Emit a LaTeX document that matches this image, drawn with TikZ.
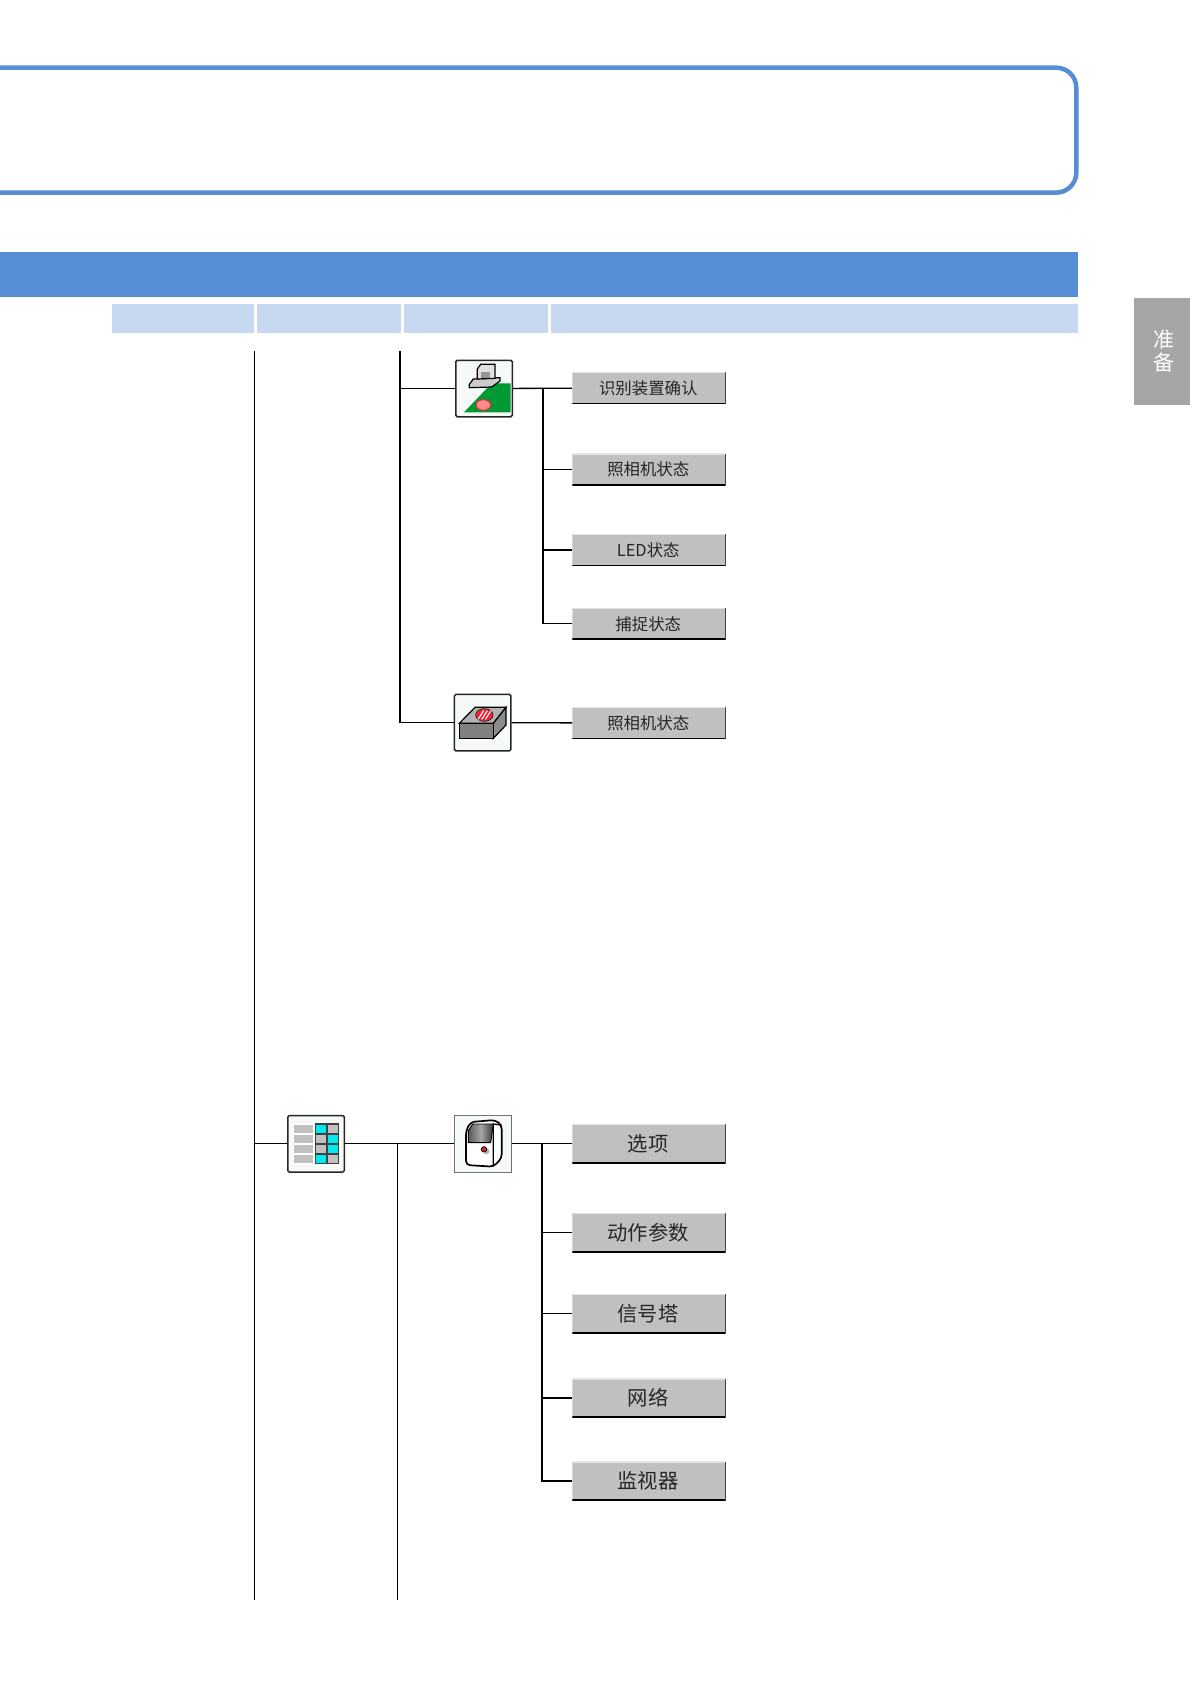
\documentclass[tikz,border=0pt]{standalone}
\usepackage{fontspec}
\setmainfont{Noto Sans CJK SC}
\definecolor{bandblue}{HTML}{558ED5}
\definecolor{cellblue}{HTML}{C6D9F1}
\definecolor{tabgray}{HTML}{A6A6A6}
\definecolor{btngray}{HTML}{C0C0C0}
\definecolor{btnlight}{HTML}{E4E4E4}
\definecolor{iconbg}{HTML}{F5FAF6}
\definecolor{icongreen}{HTML}{009933}
\definecolor{iconcyan}{HTML}{00E8F0}
\definecolor{iconred}{HTML}{F02030}
\begin{document}
\begin{tikzpicture}[
    x=1pt, y=-1pt,
    link/.style={line width=1.3pt, black},
    iconbox/.style={draw=black!85, line width=1.5pt, fill=iconbg, rounded corners=1.5pt,
      minimum size=56.5pt, inner sep=0pt},
    iconflat/.style={iconbox, draw=black!55, line width=.8pt, rounded corners=0pt},
    btn/.style={fill=btngray, text=black!85, minimum width=153.4pt, inner sep=0pt,
      path picture={
        \draw[btnlight, line width=2pt] (path picture bounding box.south west)
          |- (path picture bounding box.north east);
        \draw[black, line width=2.2pt] (path picture bounding box.south west)
          -| (path picture bounding box.north east);
      }},
    btnsmall/.style={btn, minimum height=31.5pt, font=\fontsize{16.4}{18}\selectfont},
    btnbig/.style={btn, minimum height=39pt, font=\fontsize{20.3}{22}\selectfont},
    icondraw/.style={draw=black, line width=1.2pt}]
  \useasboundingbox (0,0) rectangle (1190,1684);

  % header
  \draw[bandblue, line width=4.5pt, rounded corners=20pt]
    (0,67.7) -- (1076.3,67.7) -- (1076.3,192.6) -- (0,192.6);
  \fill[bandblue] (0,252) rectangle (1078,297);
  \foreach \a/\b in {112/254, 257/401, 404/548, 551/1078}
    \fill[cellblue] (\a,304) rectangle (\b,332.7);
  \node[fill=tabgray, text=white, minimum width=60pt, minimum height=106.7pt, inner sep=0pt,
    align=center, font=\fontsize{21}{22.7}\selectfont] (tabPrep) at (1164,351.3) {\raisebox{-1pt}{准}\\\raisebox{-1pt}{备}};

  % icons
  \node[iconbox]  (iconA) at (484,388.5) {};
  \node[iconbox]  (iconB) at (482.7,722.7) {};
  \node[iconbox]  (iconC) at (316,1143.8) {};
  \node[iconflat] (iconD) at (483,1143.8) {};

  % buttons
  \node[btnsmall, text depth=0pt] (btnA1) at (649,388) {\hspace{-1.5pt}识别装置确认};
  \node[btnsmall] (btnA2) at (649,469.4) {\hspace{-1.5pt}照相机状态};
  \node[btnsmall] (btnA3) at (649,550) {\hspace{-1.5pt}LED状态};
  \node[btnsmall] (btnA4) at (649,623.8) {\hspace{-1.5pt}捕捉状态};
  \node[btnsmall] (btnB1) at (649,723) {\hspace{-1.5pt}照相机状态};
  \node[btnbig]   (btnD1) at (649,1143.8) {\hspace{-2pt}选项};
  \node[btnbig]   (btnD2) at (649,1232.8) {\hspace{-2pt}动作参数};
  \node[btnbig]   (btnD3) at (649,1313.5) {\hspace{-2pt}信号塔};
  \node[btnbig]   (btnD4) at (649,1398) {\hspace{-2pt}网络};
  \node[btnbig]   (btnD5) at (649,1481) {\hspace{-2pt}监视器};

  % connectors
  \coordinate (top1) at (254.5,351);
  \coordinate (end1) at (254.5,1600);
  \coordinate (top2) at (400,351);
  \coordinate (junA) at (543,388);
  \coordinate (junC) at (397.3,1143.8);
  \coordinate (end2) at (397.3,1600);
  \coordinate (junD) at (542,1143.8);
  \draw[link] (top1) -- (end1);
  \draw[link] (top2) |- (iconB);
  \draw[link] (top2 |- iconA) -- (iconA);
  \draw[link] (iconA) -- (btnA1);
  \foreach \b in {btnA2, btnA3, btnA4}
    \draw[link] (junA) |- (\b);
  \draw[link] (iconB) -- (btnB1);
  \draw[link] (end1 |- iconC) -- (iconC);
  \draw[link] (iconC) -- (iconD);
  \draw[link] (junC) -- (end2);
  \draw[link] (iconD) -- (btnD1);
  \foreach \b in {btnD2, btnD3, btnD4, btnD5}
    \draw[link] (junD) |- (\b);

  % icon A: camera over green board
  \begin{scope}[shift={(450,355)}, scale=1/3]
    \fill[icongreen] (42,172) -- (125,85) -- (182,85) -- (182,172) -- cycle;
    \draw[iconred, fill=red!45!white, line width=1pt] (100,150) ellipse (22 and 16);
    \draw[icondraw, fill=black!20] (58,88) -- (70,72) -- (150,68) -- (150,78) -- (125,96) -- (58,98) -- cycle;
    \draw[icondraw, fill=black!12] (82,42) -- (92,28) -- (135,28) -- (135,70) -- (82,72) -- cycle;
    \fill[black!42] (92,50) rectangle (120,68);
  \end{scope}

  % icon B: camera unit
  \begin{scope}[shift={(450,690)}, scale=1/3]
    \draw[icondraw, fill=black!30] (28,100) -- (75,52) -- (168,52) -- (130,100) -- cycle;
    \draw[icondraw, fill=black!45] (130,100) -- (168,52) -- (168,105) -- (130,145) -- cycle;
    \draw[icondraw, fill=black!50] (28,100) rectangle (130,145);
    \draw[draw=black!80, fill=iconred, line width=.8pt] (103,75) ellipse (26 and 19);
    \foreach \s in {-14,-3,8}
      \draw[white, line width=1.1pt] (103+\s-5,88) -- (103+\s+12,62);
  \end{scope}

  % icon C: table of settings
  \begin{scope}[shift={(283,1110)}, scale=1/3]
    \foreach \y/\c/\d in {42/iconcyan/btngray, 72/btngray/iconcyan, 102/btngray/iconcyan, 132/iconcyan/btngray} {
      \draw[white, fill=btngray, line width=.7pt] (32,\y) rectangle (92,\y+29);
      \draw[black!75, fill=\c, line width=1.2pt] (97,\y) rectangle (131,\y+29);
      \draw[black!75, fill=\d, line width=1.2pt] (133,\y) rectangle (167,\y+29);
    }
  \end{scope}

  % icon D: cabinet with lamp
  \begin{scope}[shift={(450,1110)}, scale=1/3]
    \draw[black, fill=white, line width=1.7pt, rounded corners=4pt]
      (48,165) -- (48,62) -- (62,36) -- (135,30) -- (155,45) -- (155,145) -- (130,170) -- cycle;
    \draw[black, line width=1.3pt] (130,170) -- (130,42) -- (155,45);
    \draw[black, left color=black!65, right color=black!78, middle color=black!35, line width=.9pt]
      (55,98) -- (55,62) -- (68,42) -- (130,42) -- (122,98) -- cycle;
    \fill[black!30] (109,124) circle (9);
    \draw[black, fill=iconred, line width=.8pt] (102,118) circle (8);
  \end{scope}
\end{tikzpicture}
\end{document}
